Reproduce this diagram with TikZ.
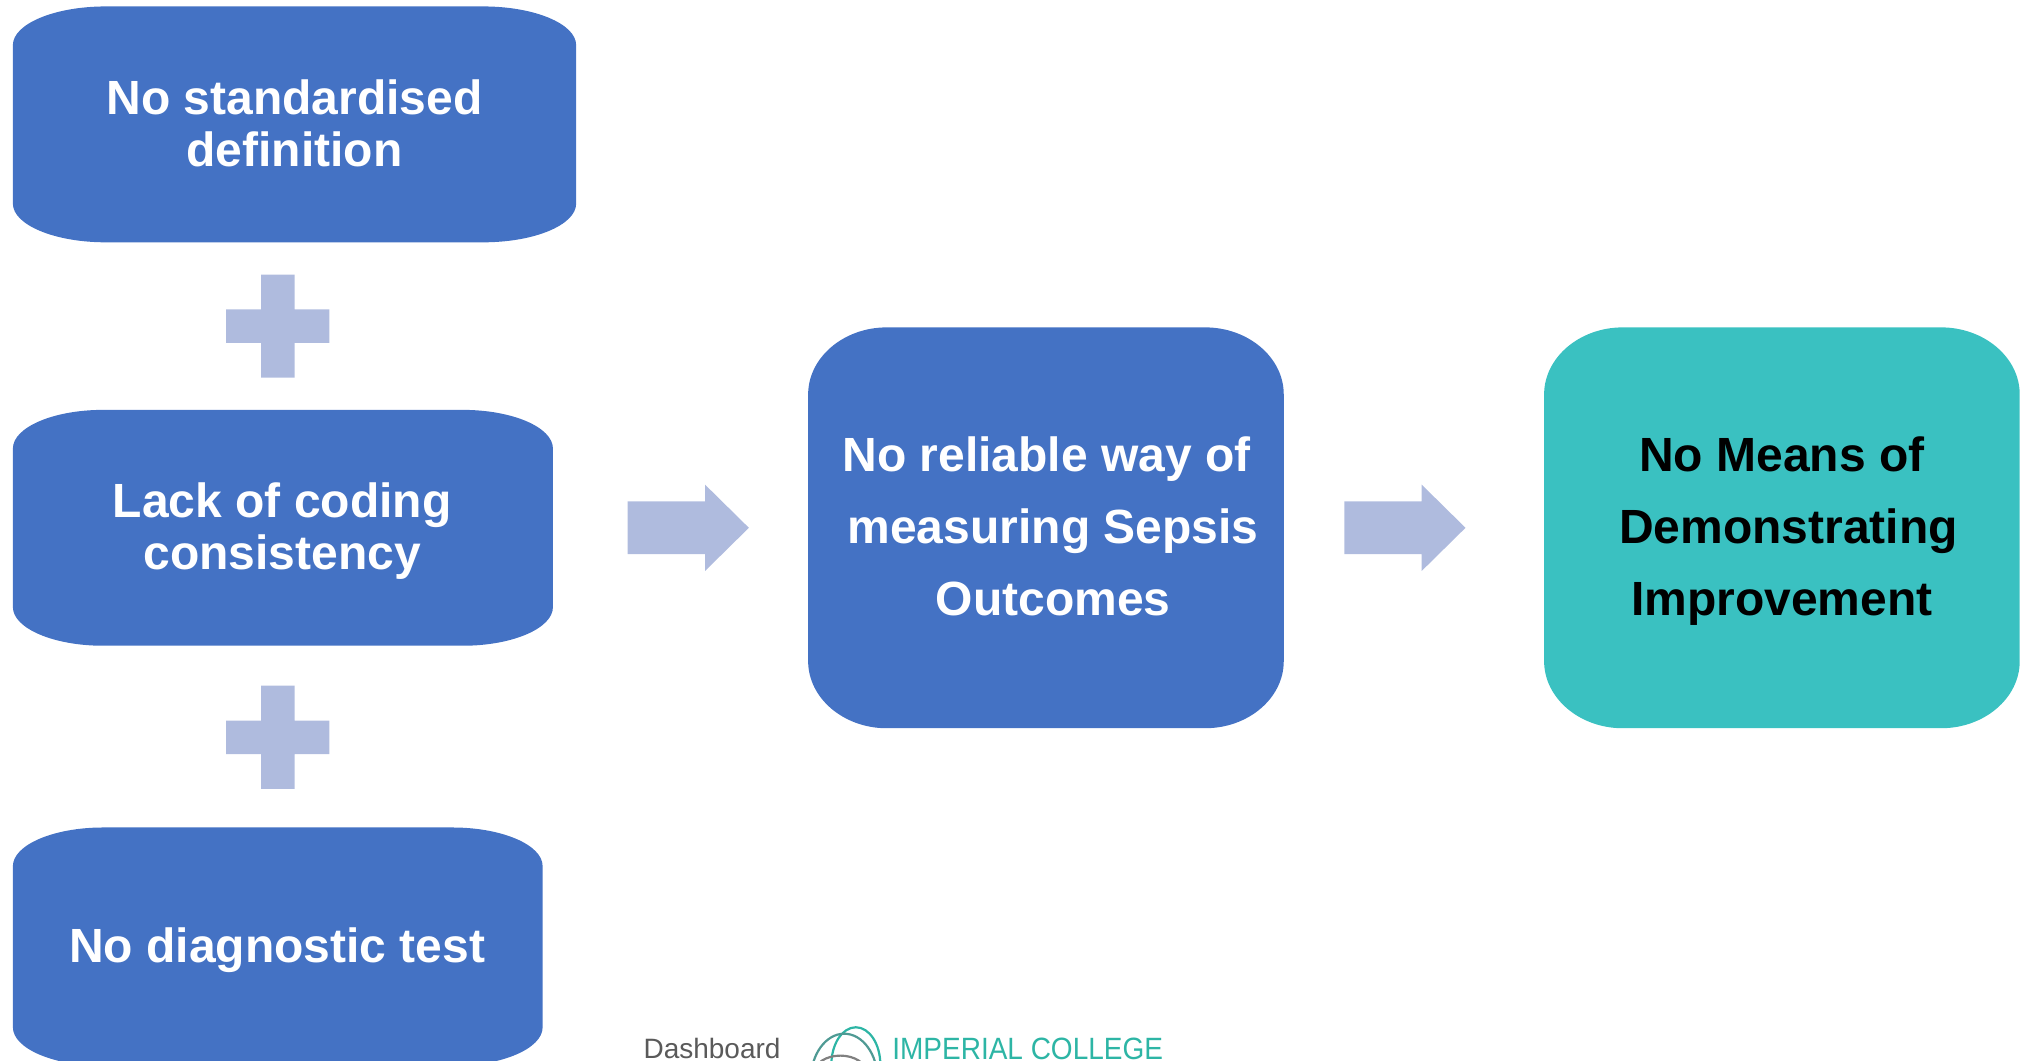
\documentclass[tikz,border=0pt]{standalone}
\usepackage{fontspec}
\usepackage{graphicx}
\setmainfont{Liberation Sans}
\definecolor{boxblue}{HTML}{4472C4}
\definecolor{boxteal}{HTML}{3AC1C1}
\definecolor{lightblue}{HTML}{AFBBDE}
\definecolor{logoteal}{HTML}{2DB5A5}
\definecolor{logodark}{HTML}{4F9A94}
\definecolor{logogrey}{HTML}{5A5A5A}
\newcommand{\ebox}[7]{% colour,x0,y0,x1,y1,rx,ry
  \fill[#1] ({#2+#6},#3) -- ({#4-#6},#3)
    .. controls ({#4-.45*#6},#3) and (#4,{#3+.45*#7}) .. (#4,{#3+#7})
    -- (#4,{#5-#7})
    .. controls (#4,{#5-.45*#7}) and ({#4-.45*#6},#5) .. ({#4-#6},#5)
    -- ({#2+#6},#5)
    .. controls ({#2+.45*#6},#5) and (#2,{#5-.45*#7}) .. (#2,{#5-#7})
    -- (#2,{#3+#7})
    .. controls (#2,{#3+.45*#7}) and ({#2+.45*#6},#3) .. ({#2+#6},#3) -- cycle;}
\newcommand{\plusmark}[2]{% centre x, centre y
  \fill[lightblue] ({#1-13},{#2-40}) -- ({#1+13},{#2-40}) -- ({#1+13},{#2-13}) -- ({#1+40},{#2-13})
    -- ({#1+40},{#2+13}) -- ({#1+13},{#2+13}) -- ({#1+13},{#2+40}) -- ({#1-13},{#2+40})
    -- ({#1-13},{#2+13}) -- ({#1-40},{#2+13}) -- ({#1-40},{#2-13}) -- ({#1-13},{#2-13}) -- cycle;}
\newcommand{\blockarrow}[1]{% left x
  \fill[lightblue] (#1,389) -- ({#1+60},389) -- ({#1+60},376) -- ({#1+94},409.5) -- ({#1+60},443)
    -- ({#1+60},430) -- (#1,430) -- cycle;}
\tikzset{
  boxtext/.style={font=\fontsize{24pt}{25.8pt}\bfseries\selectfont, align=center, text=white, inner sep=0pt},
  widetext/.style={boxtext, font=\fontsize{24pt}{36pt}\bfseries\selectfont},
}
\begin{document}
\begin{tikzpicture}[x=0.6445pt,y=-0.6445pt]
\useasboundingbox (0,0) rectangle (1568,823);
\clip (0,0) rectangle (1568,823);
\ebox{boxblue}{10}{5}{447}{188}{72}{30}
\ebox{boxblue}{10}{318}{429}{501}{70}{30}
\ebox{boxblue}{10}{642}{421}{827}{70}{30}
\ebox{boxblue}{627}{254}{996}{565}{61}{52}
\ebox{boxteal}{1198}{254}{1567}{565}{61}{52}
\plusmark{215.5}{253}
\plusmark{215.5}{572}
\blockarrow{487}
\blockarrow{1043}
\node[boxtext] (def) at (228.5,95.5) {No standardised\\definition};
\node[boxtext] (code) at (219,412) {Lack of coding\\consistency};
\node[boxtext] (test) at (215,737) {No diagnostic test};
\node[widetext] (rel) at (817,408.5) {No reliable way of\hspace*{6.6pt}\\measuring Sepsis\\Outcomes};
\node[widetext,text=black] (means) at (1387.5,412) {No Means of\hspace*{6.6pt}\\Demonstrating\\Improvement\hspace*{6.6pt}};
\node[anchor=base west,inner sep=0pt,text=logogrey,font=\fontsize{14pt}{14pt}\selectfont] (dash) at (499,821) {Dashboard};
\node[anchor=base west,inner sep=0pt,text=logoteal,font=\fontsize{14pt}{14pt}\selectfont] (imp) at (692,822) {\scalebox{1}[1.1]{IMPERIAL COLLEGE}};
\draw[logoteal,line width=1.1pt] (664,826) ellipse (19 and 29);
\draw[logodark,line width=1.1pt] (655,838) ellipse (26 and 36);
\draw[gray,line width=1.1pt] (652,832) ellipse (20 and 13);
\end{tikzpicture}
\end{document}
